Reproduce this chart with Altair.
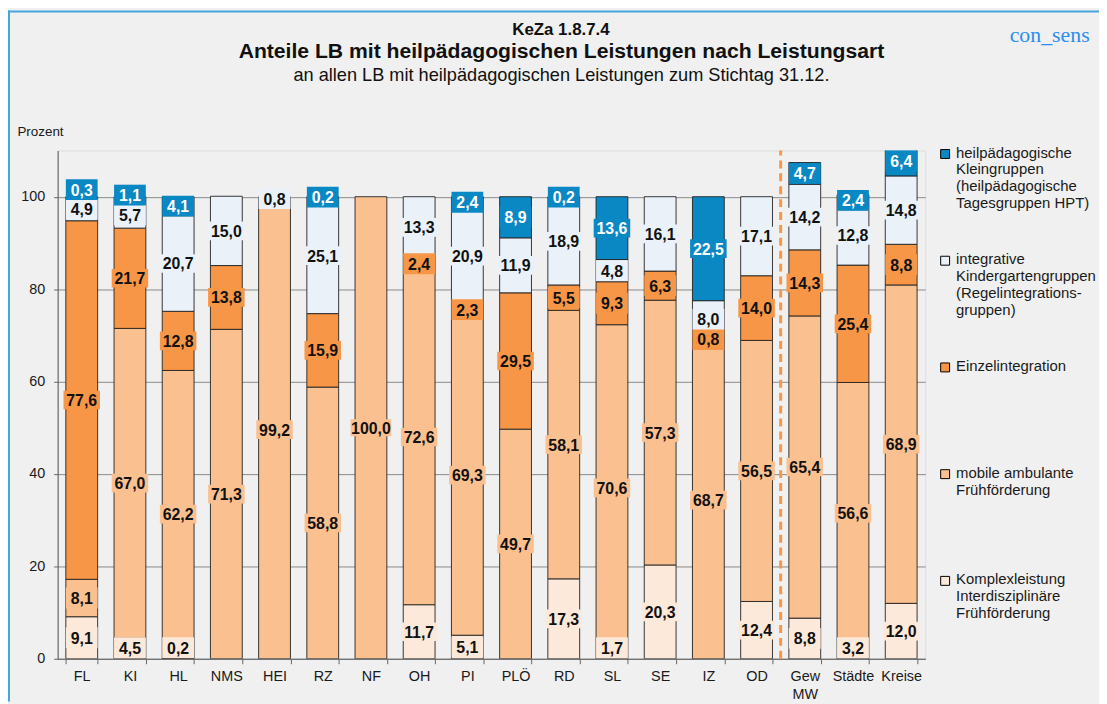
import altair as alt
import pandas as pd

categories = ["FL", "KI", "HL", "NMS", "HEI", "RZ", "NF", "OH", "PI", "PLÖ",
              "RD", "SL", "SE", "IZ", "OD", "Gew MW", "Städte", "Kreise"]
komplex = [9.1, 4.5, 0.2, 0, 0, 0, 0, 11.7, 5.1, 0, 17.3, 1.7, 20.3, 0, 12.4, 8.8, 3.2, 12.0]
mobile = [8.1, 67.0, 62.2, 71.3, 99.2, 58.8, 100.0, 72.6, 69.3, 49.7, 58.1, 70.6, 57.3, 68.7, 56.5, 65.4, 56.6, 68.9]
einzel = [77.6, 21.7, 12.8, 13.8, 0, 15.9, 0, 2.4, 2.3, 29.5, 5.5, 9.3, 6.3, 0.8, 14.0, 14.3, 25.4, 8.8]
integr = [4.9, 5.7, 20.7, 15.0, 0.8, 25.1, 0, 13.3, 20.9, 11.9, 18.9, 4.8, 16.1, 8.0, 17.1, 14.2, 12.8, 14.8]
klein = [0.3, 1.1, 4.1, 0, 0, 0.2, 0, 0, 2.4, 8.9, 0.2, 13.6, 0, 22.5, 0, 4.7, 2.4, 6.4]

n_klein = "heilpädagogische|Kleingruppen|(heilpädagogische|Tagesgruppen HPT)"
n_integr = "integrative|Kindergartengruppen|(Regelintegrations-|gruppen)"
n_einzel = "Einzelintegration"
n_mobile = "mobile ambulante|Frühförderung"
n_komplex = "Komplexleistung|Interdisziplinäre|Frühförderung"

legend_order = [n_klein, n_integr, n_einzel, n_mobile, n_komplex]
colors = ["#0A88C4", "#EAF1F9", "#F79646", "#FAC090", "#FDE9D9"]

title_keza = "KeZa 1.8.7.4"
title_main = "Anteile LB mit heilpädagogischen Leistungen nach Leistungsart"
title_sub = "an allen LB mit heilpädagogischen Leistungen zum Stichtag 31.12."
brand = "con_sens"
y_title = "Prozent"

# stack from bottom to top
stack_series = [(n_komplex, komplex), (n_mobile, mobile), (n_einzel, einzel),
                (n_integr, integr), (n_klein, klein)]

rows = []
for i, cat in enumerate(categories):
    cum = 0.0
    prev = -1e9
    for k, (name, vals) in enumerate(stack_series):
        v = vals[i]
        if v > 0:
            mid = cum + v / 2
            ly = max(mid, 2.4, prev + 4.3)
            prev = ly
            lab = f"{v:.1f}".replace(".", ",")
            rows.append({"cat": cat, "series": name, "val": v, "ord": k,
                         "ly": ly, "lab": lab, "len": str(len(lab))})
            cum += v
df = pd.DataFrame(rows)

box_w = {"3": 32, "4": 41, "5": 50}
box_h = 21
len_dom = ["3", "4", "5"]
box_paths = []
for L in len_dom:
    r = box_h / box_w[L]
    box_paths.append(f"M-1,{-r:.3f}H1V{r:.3f}H-1Z")
box_sizes = [box_w[L] ** 2 for L in len_dom]

FONT = "Liberation Sans"

x_enc = alt.X("cat:N", sort=categories,
              scale=alt.Scale(paddingInner=0.34, paddingOuter=0.17),
              axis=alt.Axis(title=None, labelAngle=0, labelFontSize=14.5, labelFont=FONT,
                            labelColor="#1a1a1a", labelPadding=6, tickSize=5, tickBand="extent",
                            tickColor="#666", domainColor="#666",
                            labelLineHeight=18,
                            labelExpr="datum.label == 'Gew MW' ? ['Gew', 'MW'] : datum.label"))

y_scale = alt.Scale(domain=[0, 110], nice=False)

bars = alt.Chart(df).mark_bar(stroke="#222", strokeWidth=0.9, clip=True).encode(
    x=x_enc,
    y=alt.Y("val:Q", stack="zero", scale=y_scale,
            axis=alt.Axis(values=[0, 20, 40, 60, 80, 100], grid=True, gridColor="#8a8a8a",
                          gridWidth=1, tickSize=4, tickColor="#666", domainColor="#555",
                          labelFontSize=14.5, labelFont=FONT, labelColor="#1a1a1a",
                          labelPadding=9, title=y_title, titleAngle=0, titleAlign="left",
                          titleBaseline="middle", titleX=-41, titleY=-19, titleFontSize=13.5,
                          titleFontWeight="normal", titleFont=FONT, titleColor="#1a1a1a")),
    color=alt.Color("series:N", scale=alt.Scale(domain=legend_order, range=colors),
                    legend=alt.Legend(title=None, orient="none", legendX=886.5, legendY=-12.4,
                                      direction="vertical",
                                      labelExpr="slice(split(datum.label + '|||', '|'), 0, 4)",
                                      labelFontSize=15, labelFont=FONT, labelColor="#1a1a1a",
                                      labelBaseline="top", labelOffset=3.5, labelLimit=300,
                                      symbolType="M-1,0.87H1V2.87H-1Z", symbolSize=81,
                                      symbolStrokeColor="#000", symbolStrokeWidth=1,
                                      symbolOpacity=1, rowPadding=33.5, padding=0)),
    order=alt.Order("ord:Q", sort="ascending"),
)

boxes = alt.Chart(df).mark_point(filled=True, opacity=1, strokeWidth=0).encode(
    x=alt.X("cat:N", sort=categories),
    y=alt.Y("ly:Q"),
    fill=alt.Fill("series:N", scale=alt.Scale(domain=legend_order, range=colors), legend=None),
    shape=alt.Shape("len:N", scale=alt.Scale(domain=len_dom, range=box_paths), legend=None),
    size=alt.Size("len:O", scale=alt.Scale(domain=len_dom, range=box_sizes), legend=None),
)

labels = alt.Chart(df).mark_text(fontSize=16, fontWeight="bold", font=FONT,
                                 align="center", baseline="middle", dy=1).encode(
    x=alt.X("cat:N", sort=categories),
    y=alt.Y("ly:Q"),
    text="lab:N",
    color=alt.condition("datum.ord == 4", alt.value("white"), alt.value("#111")),
)

sep = alt.Chart(pd.DataFrame({"cat": ["Gew MW"]})).mark_rule(
    color="#F79646", strokeWidth=3, strokeDash=[8, 5], xOffset=-8.26).encode(
    x=alt.X("cat:N", sort=categories, bandPosition=0),
    y=alt.datum(0), y2=alt.datum(110),
)

def header(text, size, weight, x, y, color="#111", font=FONT, align="center", baseline="middle"):
    return alt.Chart(pd.DataFrame({"t": [text]})).mark_text(
        fontSize=size, fontWeight=weight, font=font, color=color,
        align=align, baseline=baseline).encode(
        text="t:N", x=alt.value(x), y=alt.value(y))

h1 = header(title_keza, 17, "bold", 507, -121)
h2 = header(title_main, 21.3, "bold", 507.5, -99.5)
h3 = header(title_sub, 18.3, "normal", 507.5, -75)
h4 = header(brand, 22, "normal", 959, -109, color="#2B8FF0", font="Liberation Serif",
            align="left", baseline="alphabetic")

edge_l = alt.Chart(pd.DataFrame({"a": [0]})).mark_rule(color="#45A6DC", strokeWidth=2).encode(
    x=alt.value(-49), y=alt.value(-141), y2=alt.value(555))
edge_t = alt.Chart(pd.DataFrame({"a": [0]})).mark_rule(color="#45A6DC", strokeWidth=2).encode(
    x=alt.value(-50), x2=alt.value(1049), y=alt.value(-140))

chart = alt.layer(bars, sep, boxes, labels, h1, h2, h3, h4, edge_l, edge_t).properties(
    width=874, height=512,
    autosize=alt.AutoSizeParams(type="none"),
    padding={"left": 50, "top": 141, "right": 175, "bottom": 43},
    background="#F0F0F0",
).configure_view(stroke="#8a8a8a", strokeWidth=1, fill="white").configure(font=FONT)

chart.save("out.html", embed_options={"renderer": "svg", "actions": False})
